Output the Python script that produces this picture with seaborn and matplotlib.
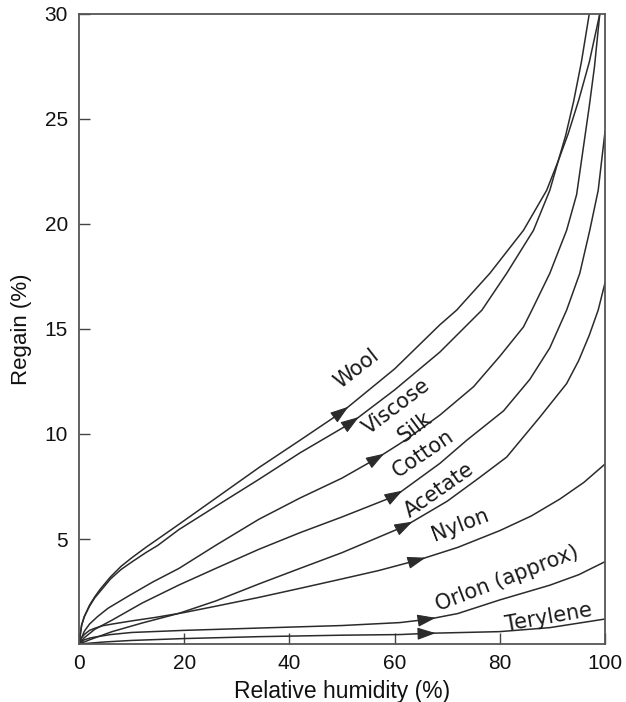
import numpy as np
import pandas as pd
import matplotlib
matplotlib.use("Agg")
import matplotlib.pyplot as plt
import seaborn as sns

# Moisture regain curves (RH %, regain %)
rh_wool = [0, 0.5, 1, 2, 3, 4, 6, 8, 10, 12.7, 15, 19, 26.6, 34.2, 42, 50, 60, 68.6, 71.8, 78.1, 84.5, 88.9, 91.1, 93, 95, 97, 99]
regain_wool = [0, 0.9, 1.3, 1.85, 2.25, 2.6, 3.2, 3.7, 4.1, 4.6, 5.0, 5.7, 7.05, 8.4, 9.7, 11.05, 13.1, 15.2, 15.9, 17.65, 19.7, 21.6, 23.0, 24.3, 25.9, 27.7, 30]

rh_viscose = [0, 0.5, 1, 2, 3, 4, 6, 8, 10, 12.7, 15, 19, 26.6, 34.2, 42, 51.8, 60, 68.6, 76.6, 81.3, 86.4, 89.5, 91.1, 92.5, 94, 95.5, 97]
regain_viscose = [0, 0.9, 1.3, 1.8, 2.2, 2.5, 3.1, 3.55, 3.9, 4.35, 4.7, 5.45, 6.65, 7.84, 9.1, 10.54, 12.1, 13.9, 15.9, 17.65, 19.7, 21.6, 23.0, 24.2, 25.8, 27.7, 30]

rh_silk = [0, 1, 2, 3.5, 5.5, 9.5, 14, 19, 26, 34.2, 42, 50, 56.6, 62, 68.6, 75, 80, 84.5, 86.1, 89.5, 92.7, 94.6, 95.8, 97, 98, 99]
regain_silk = [0, 0.6, 0.95, 1.3, 1.7, 2.3, 2.95, 3.6, 4.7, 5.94, 6.95, 7.9, 8.84, 9.7, 10.9, 12.25, 13.7, 15.1, 15.9, 17.65, 19.7, 21.4, 23.5, 25.6, 27.5, 30]

rh_cotton = [0, 1, 3, 6.3, 12, 19, 26, 34.2, 42, 50, 60.1, 68.6, 73.7, 80.7, 85.7, 89.5, 92.7, 95.2, 97.1, 98.7, 100]
regain_cotton = [0, 0.3, 0.7, 1.14, 1.95, 2.81, 3.6, 4.51, 5.3, 6.05, 7.05, 8.6, 9.7, 11.1, 12.6, 14.1, 15.9, 17.65, 19.7, 21.6, 24.4]

rh_acetate = [0, 2, 6.3, 12, 19, 26, 34.2, 42, 50, 62, 70, 76, 81.3, 87.6, 92.7, 95, 97, 98.7, 100]
regain_acetate = [0, 0.2, 0.59, 1.0, 1.46, 2.05, 2.86, 3.6, 4.35, 5.62, 6.8, 7.9, 8.9, 10.8, 12.4, 13.5, 14.7, 15.9, 17.2]

rh_nylon = [0, 0.5, 1, 2, 3, 4.5, 6.3, 10, 14.6, 20, 26, 34.2, 42, 50, 57, 64.5, 72, 80, 86, 91.4, 96, 100]
regain_nylon = [0, 0.3, 0.45, 0.65, 0.75, 0.87, 0.95, 1.1, 1.27, 1.5, 1.8, 2.22, 2.65, 3.1, 3.5, 4.0, 4.6, 5.4, 6.1, 6.9, 7.7, 8.57]

rh_orlon = [0, 1, 2, 3, 6, 10, 20, 34.2, 50, 61, 66.4, 72, 80, 89.5, 95, 100]
regain_orlon = [0, 0.2, 0.28, 0.33, 0.45, 0.55, 0.65, 0.76, 0.88, 1.02, 1.18, 1.45, 2.1, 2.8, 3.3, 3.92]

rh_terylene = [0, 5, 10, 20, 34.2, 50, 61, 66.4, 80, 89.5, 100]
regain_terylene = [0, 0.1, 0.17, 0.26, 0.35, 0.42, 0.45, 0.51, 0.59, 0.78, 1.19]

fibres = ['Wool', 'Viscose', 'Silk', 'Cotton', 'Acetate', 'Nylon', 'Orlon (approx)', 'Terylene']
arrow_rh = [51.2, 53.2, 58.0, 61.5, 63.4, 65.9, 67.8, 67.8]
label_rh = [52.8, 60.4, 63.9, 65.5, 68.5, 72.4, 81.3, 89.2]
label_regain = [13.13, 11.3, 10.35, 9.08, 7.33, 5.67, 3.13, 1.27]
label_angle = [38, 37, 37, 34, 35, 21, 21, 10]

curves = {
    'Wool': (rh_wool, regain_wool),
    'Viscose': (rh_viscose, regain_viscose),
    'Silk': (rh_silk, regain_silk),
    'Cotton': (rh_cotton, regain_cotton),
    'Acetate': (rh_acetate, regain_acetate),
    'Nylon': (rh_nylon, regain_nylon),
    'Orlon (approx)': (rh_orlon, regain_orlon),
    'Terylene': (rh_terylene, regain_terylene),
}

frames = []
for name in fibres:
    xs, ys = curves[name]
    frames.append(pd.DataFrame({'rh': xs, 'regain': ys, 'fibre': name}))
df = pd.concat(frames, ignore_index=True)

line_color = '#2b2b2b'

sns.set_style("ticks")
plt.rcParams['font.family'] = ['Liberation Sans', 'DejaVu Sans']

fig = plt.figure(figsize=(6.26, 7.02), dpi=100)
ax = fig.add_axes([0.1262, 0.0826, 0.8403, 0.8975])

sns.lineplot(data=df, x='rh', y='regain', units='fibre', estimator=None,
             sort=False, color=line_color, linewidth=1.1, ax=ax)

# arrowheads along each curve
for name, x_tip in zip(fibres, arrow_rh):
    xs, ys = curves[name]
    y_tip = np.interp(x_tip, xs, ys)
    x_tail = x_tip - 2.5
    y_tail = np.interp(x_tail, xs, ys)
    ax.annotate('', xy=(x_tip, y_tip), xytext=(x_tail, y_tail),
                arrowprops=dict(arrowstyle='-|>,head_length=0.95,head_width=0.32',
                                mutation_scale=12, color=line_color, lw=0.8,
                                shrinkA=0, shrinkB=0))

# curve labels
for name, lx, ly, ang in zip(fibres, label_rh, label_regain, label_angle):
    ax.text(lx, ly, name, rotation=ang, rotation_mode='anchor', ha='center',
            va='center', fontsize=15, family='DejaVu Sans', color='#1a1a1a')

ax.set_xlim(0, 100)
ax.set_ylim(0, 30)
ax.set_xticks([0, 20, 40, 60, 80, 100])
ax.set_yticks([5, 10, 15, 20, 25, 30])
ax.tick_params(direction='in', length=8, width=1, colors='#444444',
               labelcolor='#111111', labelsize=15)
ax.tick_params(axis='y', pad=8)
ax.tick_params(axis='x', pad=7)
for sp in ax.spines.values():
    sp.set_color('#555555')
    sp.set_linewidth(1.3)

ax.set_xlabel('Relative humidity (%)', fontsize=16.5, labelpad=5, color='#111111')
ax.set_ylabel('Regain (%)', fontsize=16, labelpad=9, color='#111111')
if ax.get_legend() is not None:
    ax.get_legend().remove()

fig.savefig('out.png', dpi=100)
